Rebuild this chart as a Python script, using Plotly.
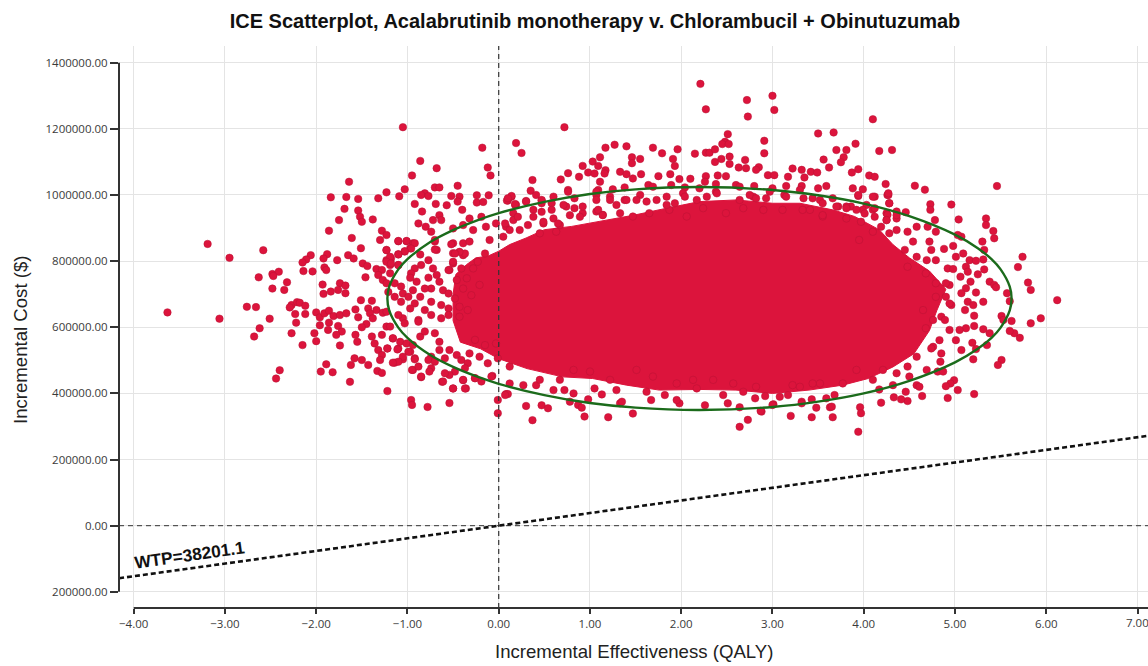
import plotly.graph_objects as go

# All pairs below are (incremental QALY, incremental cost in $ thousands).
POINTS_LEFT = [
(-3.63,645),(-3.19,852),(-3.06,626),(-2.95,810),(-2.58,833),(-2.76,662),(-2.66,661),(-2.63,751),(-2.51,626),(-2.62,597),(-2.68,572),
(-2.48,761),(-2.41,768),(-2.47,755),(-2.48,717),(-2.35,713),(-2.32,736),(-2.40,470),(-2.44,445),(-2.27,667),(-2.21,676),(-2.18,674),(-2.12,665),(-2.29,660),
(-2.23,640),(-2.12,640),(-2.22,614),(-2.27,582),(-2.15,546),(-2.00,645),(-1.96,630),(-1.91,642),(-1.86,650),(-1.81,634),(-1.74,637),(-1.67,642),
(-1.57,654),(-1.54,630),(-1.96,606),(-1.86,614),(-1.87,592),(-1.76,604),(-1.72,587),(-2.02,582),(-2.00,558),(-1.78,577),(-1.74,545),(-1.57,577),(-1.55,556),
(-1.05,1205),(-0.86,1103),(-0.68,1081),(-0.95,1059),(-0.18,1143),(-0.12,1083),(-0.09,1059),(0.19,1157),(-1.64,1040),(-1.03,1017),(-1.23,1008),(-1.09,996),(-1.32,990),
(-1.84,993),(-1.67,994),(-1.54,988),(-1.69,958),(-1.75,924),(-1.54,953),(-1.52,934),(-1.50,919),(-1.38,926),(-1.86,892),(-1.61,870),(-1.28,892),(-1.23,879),(-1.30,864),
(-1.51,839),(-1.10,860),(-1.01,860),(-0.94,854),(-0.97,839),(-1.23,834),(-1.10,821),(-1.03,829),(-1.65,818),(-1.59,808),(-1.77,803),(-1.88,821),(-1.92,808),
(-2.06,818),(-2.11,805),(-2.15,796),(-2.14,770),(-2.04,769),(-1.91,781),(-1.89,773),(-1.49,793),(-1.44,785),(-1.46,751),(-1.34,776),(-1.28,773),(-1.32,758),(-1.27,743),(-1.23,733),
(-1.23,803),(-1.18,808),(-1.19,788),(-1.10,788),(-1.93,729),(-1.74,733),(-1.68,726),(-1.76,713),(-1.68,703),(-1.92,701),(-1.84,708),(-1.51,682),(-1.39,680),
(-1.43,657),(-1.34,652),(-1.41,642),(-1.27,644),(-1.38,627),(-1.45,610),(-1.50,600),(-1.23,602),(-1.28,577),(-1.16,566),(-1.39,572),(-1.36,551),(-1.32,531),(-1.28,516),(-1.30,501),
(-1.22,536),(-1.10,536),(-1.14,493),(-1.05,503),(-0.97,526),(-1.58,506),(-1.50,501),(-1.43,486),(-1.62,486),(-1.89,488),(-1.95,466),(-1.82,464),(-1.63,435),(-1.33,468),(-1.28,462),
(-1.22,407),(-0.96,380),(-0.95,365),(-0.78,359),(-0.54,371),(-0.94,471),(-0.85,449),(-0.92,506),(-0.62,435),(-0.50,415),(-0.36,415),(-0.01,380),(-0.01,340),(0.08,398),(-0.39,440),(-0.26,446),(-0.07,453),
(-0.81,1005),(-0.85,1000),(-0.77,997),(-0.70,1023),(-0.65,1023),(-0.45,1028),(-0.92,973),(-0.84,950),(-0.69,973),(-0.57,969),(-0.52,997),(-0.43,995),(-0.45,980),(-0.40,955),
(-0.24,999),(-0.11,999),(-0.24,977),(-0.17,979),(-0.32,929),(-0.19,934),(0.10,983),(0.14,995),(0.19,970),(-0.88,914),(-0.80,904),(-0.72,924),(-0.65,939),(-0.63,924),(-0.74,889),(-0.70,859),
(-0.50,824),(-0.39,818),(-0.54,773),(-0.50,793),(-0.68,834),(-0.50,899),(-0.39,909),(-0.28,894),(-0.39,854),(-0.32,859),(-0.50,854),
(-0.14,904),(-0.03,914),(0.08,904),(-0.10,864),(0.05,874),
]
POINTS_LEFT_BAND = [
(-1.10,861),(-1.01,861),(-0.92,854),(-0.96,838),(-1.03,830),(-1.10,820),(-1.23,833),(-1.19,813),(-1.23,798),(-1.18,793),(-1.10,788),(-0.86,820),(-0.77,803),(-0.85,788),(-0.92,778),(-0.96,763),(-0.97,750),
(-1.19,763),(-1.14,733),(-1.07,723),(-1.21,707),(-1.14,692),(-1.05,702),(-0.90,738),(-0.94,712),(-0.99,692),(-1.07,677),(-0.72,778),(-0.68,758),(-0.65,738),(-0.61,712),(-0.55,702),(-0.77,750),(-0.74,717),(-0.81,717),
(-0.86,692),(-0.92,672),(-0.97,657),(-0.81,652),(-0.74,677),(-0.63,667),(-0.55,657),(-0.74,637),(-0.63,627),(-0.55,637),(-0.88,622),(-1.05,627),(-1.10,637),(-1.23,647),(-0.37,823),(-0.43,828),(-0.48,823),(-0.50,798),(-0.52,851),
(-0.55,773),(-0.70,835),(-0.70,864),(-0.41,778),(-0.35,748),(-0.39,717),(-0.30,697),(-0.46,743),(-0.48,687),(-0.43,662),(-0.34,652),(-0.43,632),(-0.28,778),(-0.23,798),(-0.15,823),(-0.21,728),
(-1.16,567),(-1.08,556),(-1.01,551),(-0.94,546),(-0.86,572),(-0.81,587),(-0.99,526),(-1.05,511),(-1.10,496),(-1.16,493),(-1.11,533),(-1.22,536),(-0.92,503),(-0.88,481),(-0.95,471),(-0.85,451),(-0.74,511),(-0.77,501),(-0.70,496),(-0.74,476),(-0.76,466),
(-0.65,556),(-0.70,582),(-0.65,531),(-0.59,506),(-0.54,531),(-0.46,516),(-0.41,501),(-0.34,491),(-0.37,476),(-0.48,466),(-0.54,456),(-0.59,461),(-0.61,436),(-0.39,441),(-0.50,415),(-0.37,415),(-0.26,446),(-0.19,436),(-0.08,451),
(-0.32,521),(-0.21,511),(-0.12,491),(-0.01,506),(-0.15,546),(-0.03,551),(-0.26,562),(-1.03,612),(-0.88,617),(-1.19,602),
]
POINTS_TOP = [
(2.21,1336),(2.27,1259),(2.72,1287),(2.73,1237),(3.00,1300),(3.02,1257),(0.72,1205),(0.25,1127),(4.10,1229),(3.50,1186),(3.67,1189),(3.70,1136),(3.81,1136),(3.91,1155),(4.17,1133),(4.31,1136),
(3.56,1107),(3.78,1114),(3.75,1099),(3.62,1083),(3.94,1078),(3.87,1068),(4.06,1059),(4.12,1055),(4.24,1033),(3.88,1020),(3.99,1017),(3.94,997),(4.26,1000),(4.12,995),
(2.51,1184),(2.48,1161),(2.45,1154),(2.52,1154),(2.91,1164),(2.91,1126),(2.15,1125),(2.27,1128),(2.31,1128),(2.37,1138),(1.96,1138),(1.79,1126),(1.69,1143),(1.40,1147),(1.27,1152),(1.17,1143),
(1.11,1114),(1.03,1101),(1.09,1088),(0.92,1088),(1.46,1114),(1.46,1096),(1.55,1109),(1.91,1109),(1.93,1088),(2.37,1100),(2.44,1109),(2.53,1116),(2.53,1094),(2.70,1106),(2.71,1081),(2.63,1083),
(2.85,1084),(2.82,1076),(2.95,1060),(3.22,1080),(3.32,1076),(3.42,1070),(3.49,1068),(0.76,1066),(0.68,1047),(0.88,1055),(0.98,1068),(0.37,1045),(1.17,1075),(1.16,1065),(1.05,1065),(1.11,1040),
(1.33,1070),(1.40,1063),(1.47,1050),(1.56,1063),(1.75,1057),(1.88,1063),(1.98,1048),(2.10,1049),(2.27,1057),(2.26,1040),(2.40,1059),(2.49,1057),(3.02,1060),(3.17,1055),(3.35,1053),
(0.35,1013),(0.14,997),(0.09,983),(0.41,1000),(0.76,1015),(0.60,995),(0.18,970),(0.30,982),(0.47,983),(1.09,1015),(1.25,1017),(1.38,1023),(1.64,1030),(1.89,1030),(2.04,1023),
(2.38,1033),(2.60,1030),(2.80,1027),(3.00,1020),(3.15,1027),(3.32,1027),(3.50,1020),(3.59,1027),(3.66,990),(3.72,965),(3.86,965),(4.03,970),(4.25,945),
(0.16,945),(0.38,955),(0.47,975),(0.58,975),(0.74,965),(1.07,1000),(1.22,995),(1.38,985),(1.55,1000),(1.69,1025),(1.84,995),(2.02,1005),(2.20,1020),(2.38,1010),(2.64,1025),(2.79,995),(2.97,1010),(3.13,1000),(3.30,1015),(3.52,985),(3.81,965),(4.10,955),(4.26,940),
(0.23,894),(0.49,914),(0.67,909),(0.92,945),(1.07,950),(1.14,940),(1.33,945),(1.47,935),(1.65,945),(1.87,955),(2.06,935),(2.24,960),(2.49,945),(2.68,960),(2.90,955),(3.11,955),(3.33,955),(3.55,935),(3.99,955),
]
POINTS_TOP_BAND = [
(0.10,990),(0.18,973),(0.30,980),(0.38,934),(0.47,949),(0.58,955),(0.49,919),(0.60,929),(0.65,914),(0.16,924),(0.21,934),(0.07,914),(0.47,985),(0.76,1010),(0.83,990),(0.92,965),(0.78,939),(1.07,985),(1.09,955),(1.14,939),
(1.22,985),(1.40,985),(1.51,985),(1.62,980),(1.73,985),(1.84,970),(1.93,975),(2.04,995),(2.17,985),(0.83,960),(0.89,934),(0.71,970),(1.29,970),(0.32,909),(0.12,894),(0.45,884),(0.63,889),(1.07,1010),
(2.28,995),(2.39,1005),(2.64,985),(2.75,1000),(2.82,990),(2.93,990),(3.15,995),(3.34,990),(3.44,990),(3.55,975),(3.70,965),(3.81,960),(4.10,995),(4.27,1000),(4.28,975),(3.92,955),(4.01,944),(4.12,960),(4.12,934),(4.25,924),(4.36,929),(3.81,929),(3.97,919),(4.19,904),(4.28,884),(3.41,955),(3.55,939),
]
POINTS_RIGHT = [
(5.46,1027),(4.56,1028),(4.67,1016),(4.96,971),(4.73,972),(4.73,955),(5.04,926),(5.34,929),(5.34,909),(5.42,891),(5.43,869),(4.46,948),(4.36,950),(4.27,1005),(4.28,975),(3.94,1000),
(4.78,924),(4.79,889),(4.70,904),(5.07,874),(5.03,879),(5.30,859),(5.32,834),(5.31,805),(5.32,775),(4.88,837),(4.98,846),(5.09,823),(5.01,813),(4.72,859),(4.74,834),(4.69,803),(4.79,803),(5.16,803),(5.23,801),
(5.74,813),(5.69,782),(5.80,735),(5.83,713),(6.12,682),(5.94,627),(5.83,612),(5.71,568),(5.65,582),(5.60,589),(5.62,619),(5.57,703),(5.60,679),(5.51,634),(5.53,622),(5.38,738),(5.43,728),(5.45,721),
(5.25,760),(5.12,783),(5.14,768),(4.92,778),(4.98,776),(5.06,753),(5.17,738),(5.12,718),(5.07,703),(5.23,705),(5.14,677),(5.31,677),(5.20,667),(5.11,652),(5.21,635),(4.94,728),(4.90,692),(4.96,667),(4.85,632),(4.94,592),
(5.12,597),(5.21,604),(5.31,594),(5.38,582),(5.05,592),(5.01,561),(5.19,553),(5.35,546),(5.07,531),(5.23,534),(5.20,503),(5.51,501),(5.47,486),(4.99,440),(4.95,430),(4.90,422),(5.03,410),(5.21,398),
(4.92,386),(4.64,392),(4.48,377),(4.41,382),(4.33,388),(4.46,405),(4.19,372),(3.96,358),(3.97,340),(3.94,284),(3.66,328),(3.43,328),(3.20,332),(3.48,357),(3.63,358),(3.32,375),(3.01,367),(2.88,345),
(4.76,541),(4.85,521),(4.84,496),(4.69,471),(4.81,466),(4.87,466),(4.50,451),(4.58,425),(4.61,420),(4.32,425),(4.17,412),
(3.95,864),(4.10,889),(4.25,924),(4.36,939),(4.48,889),(4.58,904),(4.36,894),(4.45,834),(4.54,859),(4.58,813),(4.48,783),(4.68,763),(4.79,733),(4.90,733),(4.79,692),(4.94,672),(4.65,652),(4.76,622),(4.89,622),(4.68,597),(4.83,561),(4.74,536),(4.58,511),(4.48,481),(4.36,461),(4.21,471),(4.10,441),(3.92,471),(3.77,430),(3.52,430),(3.30,420),
]
POINTS_BOTTOM = [
(0.10,398),(0.07,395),(0.30,362),(0.47,364),(0.54,355),(0.37,319),(0.78,375),(0.87,365),(0.91,357),(0.94,330),(0.98,382),(1.20,328),(1.33,370),(1.35,375),(1.47,339),(1.67,380),(1.98,370),(2.26,364),(2.51,370),(2.64,358),
(2.64,299),(2.73,320),(2.87,347),(3.00,365),(3.32,370),(3.65,360),(3.43,382),(3.59,385),(3.68,395),
(0.12,430),(0.27,425),(0.41,425),(0.60,410),(0.72,410),(0.82,400),(1.05,415),(1.13,397),(1.29,410),(1.62,405),(1.82,395),(1.95,380),(2.17,415),(2.46,395),(2.68,405),(2.81,385),(2.92,392),(3.08,390),(3.17,395),
(0.12,481),(0.45,441),(0.67,441),(0.82,471),(1.00,466),(1.22,441),(1.51,471),(1.69,451),(1.95,430),(2.13,441),(2.35,441),(2.57,430),(2.82,420),(3.22,425),(3.44,430),
]
# Outline of the saturated core, where individual dots cannot be told apart in the picture.
DENSE_CORE_OUTLINE = [
(-0.50,700),(-0.47,760),(-0.35,790),(-0.25,810),(-0.12,815),(0.0,830),(0.12,850),(0.3,870),(0.5,895),(0.8,905),(1.1,920),(1.5,940),(1.84,960),(2.2,980),(2.6,985),(3.0,975),(3.3,975),(3.66,955),(3.9,935),(4.17,895),(4.32,850),(4.5,810),(4.72,770),(4.9,715),(4.8,650),(4.72,590),(4.55,520),(4.32,480),(4.05,445),(3.77,425),(3.4,410),(3.0,400),(2.6,410),(2.2,412),(1.76,410),(1.4,425),(1.03,445),(0.7,450),(0.31,475),(0.0,505),(-0.2,535),(-0.42,555),(-0.5,620),(-0.50,700),
]
ELLIPSE_UPPER = [(-1.22,687),(-1.2,723),(-1.1,775),(-1.0,806),(-0.75,858),(-0.5,894),(-0.25,922),(0,945),(0.5,979),(1.0,1003),(1.5,1017),(2.2,1024),(3.0,1015),(3.5,999),(4.0,974),(4.5,936),(5.0,880),(5.25,839),(5.4,806),(5.5,775),(5.6,723),(5.62,687)]
ELLIPSE_LOWER = [(5.6,651),(5.5,599),(5.4,568),(5.25,535),(5.0,494),(4.5,438),(4.0,400),(3.5,375),(3.0,359),(2.2,350),(1.5,357),(1.0,371),(0.5,395),(0,429),(-0.25,452),(-0.5,480),(-0.75,516),(-1.0,568),(-1.1,599),(-1.2,651),(-1.22,687)]
WTP_X = [-4.16, 7.12]
WTP_Y = [-158916, 271991]
X_TICKS = [-4, -3, -2, -1, 0, 1, 2, 3, 4, 5, 6, 7]
X_LABELS = ["\u22124.00", "\u22123.00", "\u22122.00", "\u22121.00", "0.00", "1.00", "2.00", "3.00", "4.00", "5.00", "6.00", ""]
LAST_X_LABEL = "7.00"
Y_TICKS = [-200000, 0, 200000, 400000, 600000, 800000, 1000000, 1200000, 1400000]
Y_LABELS = ["200000.00", "0.00", "200000.00", "400000.00", "600000.00", "800000.00", "1000000.00", "1200000.00", "1400000.00"]

RED = "#DC143C"
TICK = "#333333"
X_RANGE = [-4.161, 7.115]
Y_RANGE = [-248900, 1450500]
points = POINTS_LEFT + POINTS_LEFT_BAND + POINTS_TOP + POINTS_TOP_BAND + POINTS_RIGHT + POINTS_BOTTOM
ellipse = ELLIPSE_UPPER + ELLIPSE_LOWER

fig = go.Figure()
fig.add_trace(go.Scatter(x=[p[0] for p in DENSE_CORE_OUTLINE], y=[p[1] * 1000 for p in DENSE_CORE_OUTLINE],
                         mode="lines", fill="toself", fillcolor=RED, line=dict(color=RED, width=1), name="dense core"))
fig.add_trace(go.Scatter(x=[p[0] for p in points], y=[p[1] * 1000 for p in points], mode="markers",
                         marker=dict(color=RED, size=7.5, line=dict(color="#B81234", width=0.5)), name="simulations"))
fig.add_trace(go.Scatter(x=[p[0] for p in ellipse], y=[p[1] * 1000 for p in ellipse], mode="lines",
                         line=dict(color="#1B6B1B", width=2.4, shape="spline", smoothing=0.8), name="95% ellipse"))
fig.add_trace(go.Scatter(x=X_RANGE, y=[0, 0], mode="lines", line=dict(color="#333333", width=1, dash="5px,4px"), name="y0"))
fig.add_trace(go.Scatter(x=[0, 0], y=Y_RANGE, mode="lines", line=dict(color="#333333", width=1.2, dash="5px,4px"), name="x0"))
fig.add_trace(go.Scatter(x=WTP_X, y=WTP_Y, mode="lines", line=dict(color="#111111", width=2.6, dash="5px,3px"), name="WTP"))

fig.update_layout(
    width=1148, height=666, autosize=False, showlegend=False,
    plot_bgcolor="white", paper_bgcolor="white",
    margin=dict(l=119, r=0, t=46, b=58),
    font=dict(family="Open Sans", size=11.5, color="#3a3a3a"),
    title=dict(text="<b>ICE Scatterplot, Acalabrutinib monotherapy v. Chlorambucil + Obinutuzumab</b>",
               x=595 / 1148, xanchor="center", y=1 - 21 / 666, yanchor="middle",
               font=dict(family="Liberation Sans", size=20, color="#111111")),
    annotations=[
        dict(text="Incremental Effectiveness (QALY)", xref="paper", yref="paper", x=(634 - 119) / 1029, y=-(651 - 608) / 562,
             xanchor="center", yanchor="middle", showarrow=False, font=dict(family="Liberation Sans", size=18.6, color="#222222")),
        dict(text="Incremental Cost ($)", xref="paper", yref="paper", x=-(119 - 20) / 1029, y=(608 - 340) / 562, textangle=-90,
             xanchor="center", yanchor="middle", showarrow=False, font=dict(family="Liberation Sans", size=18.6, color="#222222")),
        dict(text="<b>WTP=38201.1</b>", x=-3.39, y=-88600, textangle=-8, showarrow=False,
             xanchor="center", yanchor="middle", font=dict(family="Liberation Sans", size=17.3, color="#111111")),
        dict(text=LAST_X_LABEL, xref="x", yref="paper", x=7, y=-(622 - 608) / 562, xanchor="center", yanchor="middle",
             showarrow=False, font=dict(family="Open Sans", size=11.5, color="#3a3a3a")),
    ],
    shapes=[
        dict(type="line", xref="paper", yref="y", x0=0, x1=0, y0=-200000, y1=1400000, line=dict(color=TICK, width=2)),
        dict(type="line", xref="x", yref="paper", x0=-4, x1=7.115, y0=0, y1=0, line=dict(color=TICK, width=2)),
    ],
)
fig.update_xaxes(range=X_RANGE, tickvals=X_TICKS, ticktext=X_LABELS, showgrid=True, gridcolor="#E4E4E4", gridwidth=1,
                 zeroline=False, showline=False, ticks="outside", ticklen=5, tickwidth=1.5, tickcolor=TICK)
fig.update_yaxes(range=Y_RANGE, tickvals=Y_TICKS, ticktext=Y_LABELS, showgrid=True, gridcolor="#E4E4E4", gridwidth=1,
                 zeroline=False, showline=False, ticks="outside", ticklen=8, tickwidth=1.5, tickcolor=TICK)
fig.write_html("out.html", config=dict(displayModeBar=False),
               post_script="document.body.style.margin='0';document.documentElement.style.overflow='hidden';")
